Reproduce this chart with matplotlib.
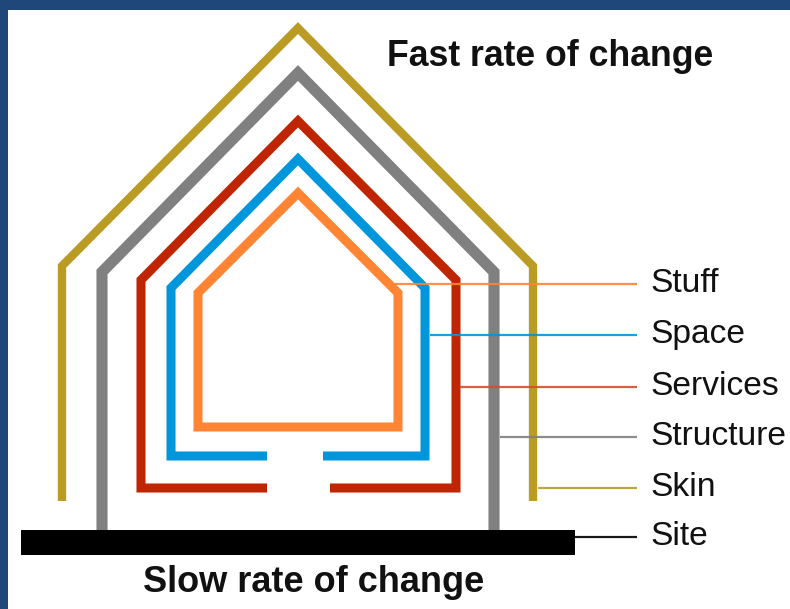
"""
Shearing layers diagram: nested house outlines with labelled leader lines.
"""
import matplotlib
matplotlib.use("Agg")
import matplotlib.pyplot as plt
from matplotlib.patches import Rectangle, Polygon

plt.rcParams["font.family"] = ["Liberation Sans", "DejaVu Sans"]

# layer outlines in image pixels (x, y with y down)
skin_x = [62, 62, 298, 533, 533]
skin_y = [501, 266, 28, 266, 501]
structure_x = [102, 102, 298, 494, 494]
structure_y = [531, 272, 73, 272, 531]
services_x = [267, 141, 141, 298, 456, 456, 330]
services_y = [488, 488, 280, 121, 280, 488, 488]
space_x = [267, 171, 171, 298, 425, 425, 323]
space_y = [456, 456, 288, 159, 288, 456, 456]
stuff_x = [198, 198, 298, 398, 398]
stuff_y = [427, 293, 193, 293, 427]
site_x = [21, 575]
site_y = [530, 555]

labels = ["Stuff", "Space", "Services", "Structure", "Skin", "Site"]
leader_start = [393, 430, 460, 500, 538, 575]
leader_y = [284, 335, 387, 437, 488, 537]
leader_end = 637

colors = {
    "Skin": "#BA9B24",
    "Structure": "#808080",
    "Services": "#BF2500",
    "Space": "#0096DC",
    "Stuff": "#FF8433",
    "Site": "#000000",
}
leader_colors = ["#FF8433", "#0096DC", "#D0502A", "#808080", "#BA9B24", "#000000"]

W, H = 790, 609
fig = plt.figure(figsize=(W / 100, H / 100), dpi=100, facecolor="#1F477A")
ax = fig.add_axes([0, 0, 1, 1])
ax.set_xlim(0, W)
ax.set_ylim(H, 0)
ax.axis("off")

# white panel inside the blue frame
ax.add_patch(Rectangle((8, 10), W - 8, H - 10, facecolor="white", edgecolor="none", zorder=0))

kw = dict(solid_capstyle="butt", solid_joinstyle="miter")
ax.plot(skin_x, skin_y, color=colors["Skin"], lw=6.0, **kw)
ax.plot(structure_x, structure_y, color=colors["Structure"], lw=8.0, **kw)
ax.plot(services_x, services_y, color=colors["Services"], lw=6.5, **kw)
ax.plot(space_x, space_y, color=colors["Space"], lw=6.5, **kw)
ax.add_patch(Polygon(list(zip(stuff_x, stuff_y)), closed=True, fill=False,
                     edgecolor=colors["Stuff"], lw=6.5, joinstyle="miter", zorder=2))

# site slab
ax.add_patch(Rectangle((site_x[0], site_y[0]), site_x[1] - site_x[0], site_y[1] - site_y[0],
                       facecolor="black", edgecolor="none", zorder=3))

# leader lines (drawn over the outlines) and labels
for name, x0, y, c in zip(labels, leader_start, leader_y, leader_colors):
    ax.plot([x0, leader_end], [y, y], color=c, lw=1.6, alpha=0.9, zorder=4,
            solid_capstyle="butt")
    ax.text(650, y + 8, name, fontsize=24.2, color="#111111", ha="left", va="baseline")

ax.text(387, 66, "Fast rate of change", fontsize=25.7, fontweight="bold",
        color="#111111", ha="left", va="baseline")
ax.text(143, 592, "Slow rate of change", fontsize=26.0, fontweight="bold",
        color="#111111", ha="left", va="baseline")

fig.savefig("out.png", dpi=100, facecolor=fig.get_facecolor())
plt.close(fig)
